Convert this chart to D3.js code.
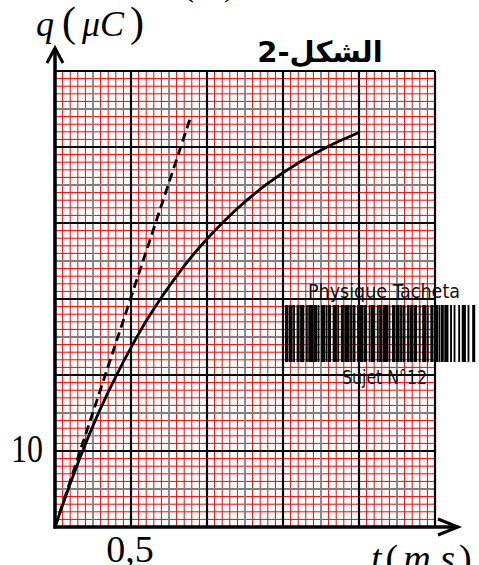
<!DOCTYPE html>
<html>
<head>
<meta charset="utf-8">
<script src="https://cdn.jsdelivr.net/npm/d3@7"></script>
<style>
  html, body { margin: 0; padding: 0; background: #fff; }
  svg { display: block; }
</style>
</head>
<body>
<div id="chart"></div>
<script>
// values: charge q (µC) against time t (ms)
const timeMs = [0, 0.1, 0.2, 0.3, 0.4, 0.5, 0.6, 0.7, 0.8, 0.9, 1.0, 1.2, 1.4, 1.6, 1.8, 2.0];
const chargeUC = [0, 5.7, 10.9, 15.6, 19.8, 23.6, 27.1, 30.2, 33.0, 35.6, 37.9, 41.9, 45.2, 47.9, 50.1, 51.9];
// tangent at the origin (dashed)
const tangentT = [0, 0.89];
const tangentQ = [0, 53.8];
// tick labels shown on the axes
const xTickLabels = [{ v: 0.5, label: '0,5' }];
const yTickLabels = [{ v: 10, label: '10' }];
// watermark barcode: alternating bar / gap widths
const barcode = [2,1,3,1,1,2,2,1,3,2,1,1,4,1,2,1,1,2,3,1,1,1,2,2,3,1,1,2,2,1,4,1,1,1,2,2,1,1,3,1,2,2,1,1,3,2,1,1,2,1,4,1,1,2,2,1,3,1,1,1,2,2,1,1,3,1,2,2,1,2,3,1,1,2,2,1,3,1,1,1,2,1,3,2,1,2,1,3,1,2,3,2,1,3,2,3];

const width = 479, height = 565;
const x = d3.scaleLinear().domain([0, 2.5]).range([55, 435]);
const y = d3.scaleLinear().domain([0, 60]).range([527, 71]);

const svg = d3.select('#chart').append('svg')
  .attr('width', width).attr('height', height);

const grid = svg.append('g');
// minor red grid
d3.range(0, 51).forEach(i => {
  const v = i * 0.05;
  if (i % 5 === 0) return;
  grid.append('line').attr('x1', x(v)).attr('x2', x(v)).attr('y1', y(0)).attr('y2', y(60))
    .attr('stroke', '#ff0000').attr('stroke-width', 1);
});
d3.range(0, 61).forEach(i => {
  if (i % 5 === 0) return;
  grid.append('line').attr('x1', x(0)).attr('x2', x(2.5)).attr('y1', y(i)).attr('y2', y(i))
    .attr('stroke', '#ff0000').attr('stroke-width', 1);
});
// grey half-major lines
d3.range(0, 11).forEach(i => {
  if (i % 2 === 0) return;
  const v = i * 0.25;
  grid.append('line').attr('x1', x(v)).attr('x2', x(v)).attr('y1', y(0)).attr('y2', y(60))
    .attr('stroke', '#808080').attr('stroke-width', 1.8);
});
d3.range(0, 13).forEach(i => {
  if (i % 2 === 0) return;
  const v = i * 5;
  grid.append('line').attr('x1', x(0)).attr('x2', x(2.5)).attr('y1', y(v)).attr('y2', y(v))
    .attr('stroke', '#808080').attr('stroke-width', 1.8);
});
// major black lines
d3.range(0, 6).forEach(i => {
  const v = i * 0.5;
  grid.append('line').attr('x1', x(v)).attr('x2', x(v)).attr('y1', y(0)).attr('y2', y(60))
    .attr('stroke', '#000').attr('stroke-width', 2.2);
});
d3.range(0, 7).forEach(i => {
  const v = i * 10;
  grid.append('line').attr('x1', x(0)).attr('x2', x(2.5)).attr('y1', y(v)).attr('y2', y(v))
    .attr('stroke', '#000').attr('stroke-width', 2.2);
});

// barcode watermark
const total = d3.sum(barcode);
const bx = d3.scaleLinear().domain([0, total]).range([285, 478]);
let acc = 0;
const wm = svg.append('g');
barcode.forEach((w, i) => {
  if (i % 2 === 0) {
    wm.append('rect').attr('x', bx(acc)).attr('y', 305)
      .attr('width', bx(acc + w) - bx(acc) + 0.7).attr('height', 57).attr('fill', '#000');
  }
  acc += w;
});
wm.append('text').attr('x', 308).attr('y', 298)
  .attr('textLength', 152).attr('lengthAdjust', 'spacingAndGlyphs')
  .attr('font-family', '"DejaVu Sans Condensed", "DejaVu Sans", sans-serif')
  .attr('font-size', 20).attr('fill', '#111').text('Physique Tacheta');
wm.append('text').attr('x', 342).attr('y', 384)
  .attr('textLength', 85).attr('lengthAdjust', 'spacingAndGlyphs')
  .attr('font-family', '"DejaVu Sans Condensed", "DejaVu Sans", sans-serif')
  .attr('font-size', 20).attr('fill', '#111').text('Sujet N°12');

// axes with arrows
const ax = svg.append('g').attr('stroke', '#000').attr('fill', 'none')
  .attr('stroke-width', 3.5).attr('stroke-linecap', 'butt');
ax.append('line').attr('x1', x(0)).attr('y1', y(0) + 1.5).attr('x2', x(0)).attr('y2', 48);
ax.append('polyline').attr('points', `${x(0) - 8},63 ${x(0)},48 ${x(0) + 8},63`).attr('stroke-width', 3);
ax.append('line').attr('x1', x(0) - 1.5).attr('y1', y(0)).attr('x2', 458).attr('y2', y(0));
ax.append('polyline').attr('points', `438,519 458,${y(0)} 438,535`).attr('stroke-width', 3);

// curves
const line = d3.line().x(d => x(d[0])).y(d => y(d[1]));
svg.append('path')
  .attr('d', line.curve(d3.curveCatmullRom)(timeMs.map((t, i) => [t, chargeUC[i]])))
  .attr('fill', 'none').attr('stroke', '#000').attr('stroke-width', 2.8);
svg.append('path')
  .attr('d', d3.line().x(d => x(d[0])).y(d => y(d[1]))(tangentT.map((t, i) => [t, tangentQ[i]])))
  .attr('fill', 'none').attr('stroke', '#000').attr('stroke-width', 2.8)
  .attr('stroke-dasharray', '9,5');

// labels
const serif = '"Liberation Serif", "DejaVu Serif", serif';
xTickLabels.forEach(d => {
  svg.append('text').attr('x', x(d.v) - 1).attr('y', 562).attr('text-anchor', 'middle')
    .attr('font-family', serif).attr('font-size', 38).text(d.label);
});
yTickLabels.forEach(d => {
  svg.append('text').attr('transform', `translate(43,${y(d.v) + 11}) scale(0.82,1)`)
    .attr('text-anchor', 'end')
    .attr('font-family', serif).attr('font-size', 39).text(d.label);
});

const yLab = svg.append('text').attr('x', 36).attr('y', 36)
  .attr('font-family', serif).attr('font-size', 36);
yLab.append('tspan').attr('font-style', 'italic').text('q');
yLab.append('tspan').attr('dx', 8).attr('font-size', 42).text('(');
yLab.append('tspan').attr('dx', 6).attr('font-style', 'italic').text('μC');
yLab.append('tspan').attr('dx', 6).attr('font-size', 42).text(')');

const xLab = svg.append('text').attr('x', 371).attr('y', 571)
  .attr('font-family', serif).attr('font-size', 38);
xLab.append('tspan').attr('font-style', 'italic').text('t');
xLab.append('tspan').attr('dx', 4).text('(');
xLab.append('tspan').attr('dx', 5).attr('font-style', 'italic').text('m s');
xLab.append('tspan').attr('dx', 4).text(')');

// clipped label of the previous figure at the very top
const topLab = svg.append('text').attr('x', 158).attr('y', -5)
  .attr('font-family', serif).attr('font-size', 36);
topLab.append('tspan').attr('font-style', 'italic').text('u');
topLab.append('tspan').attr('dx', 6).text('(');
topLab.append('tspan').attr('dx', 4).attr('font-style', 'italic').text('V');
topLab.append('tspan').attr('dx', 4).text(')');

// figure title
svg.append('text').attr('x', 320).attr('y', 62).attr('text-anchor', 'middle')
  .attr('direction', 'rtl')
  .attr('font-family', '"DejaVu Sans", sans-serif').attr('font-size', 29)
  .attr('font-weight', 'bold').text('الشكل-2');
</script>
</body>
</html>
